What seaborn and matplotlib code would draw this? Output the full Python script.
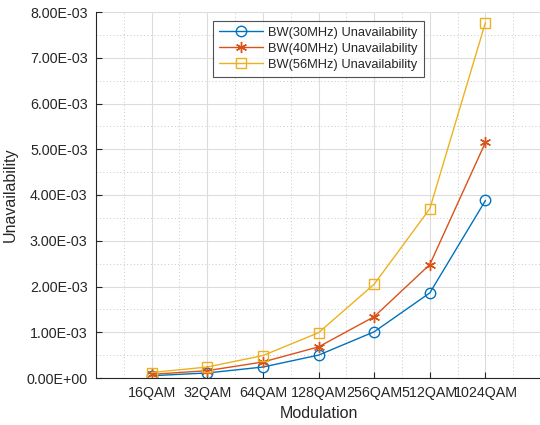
import matplotlib
matplotlib.use("Agg")
import matplotlib.pyplot as plt
import seaborn as sns
import pandas as pd
import numpy as np
from matplotlib.ticker import FuncFormatter, MultipleLocator

modulations = ["16QAM", "32QAM", "64QAM", "128QAM", "256QAM", "512QAM", "1024QAM"]
bw30 = [0.05e-3, 0.11e-3, 0.24e-3, 0.50e-3, 1.01e-3, 1.86e-3, 3.88e-3]
bw40 = [0.08e-3, 0.16e-3, 0.35e-3, 0.68e-3, 1.34e-3, 2.48e-3, 5.15e-3]
bw56 = [0.12e-3, 0.24e-3, 0.49e-3, 0.99e-3, 2.05e-3, 3.70e-3, 7.77e-3]
series_names = ["BW(30MHz) Unavailability", "BW(40MHz) Unavailability", "BW(56MHz) Unavailability"]

sns.set_style("white")
plt.rcParams['font.family'] = ['Liberation Sans', 'DejaVu Sans']

fig = plt.figure(figsize=(5.4, 4.25), dpi=100)
ax = fig.add_axes([96/540, 1-378/425, 1-96/540+0.002, (378-12)/425])

pos = np.arange(1, len(modulations)+1)
rows = []
for name, vals in zip(series_names, [bw30, bw40, bw56]):
    for p, v in zip(pos, vals):
        rows.append({"pos": p, "val": v, "series": name})
df = pd.DataFrame(rows)

colors = ["#0072BD", "#D95319", "#EDB120"]
markers = ["o", (6, 2, 0), "s"]
msizes = [7.5, 8, 6.5]
for name, c, m, ms in zip(series_names, colors, markers, msizes):
    sub = df[df.series == name]
    sns.lineplot(data=sub, x="pos", y="val", ax=ax, color=c, marker=m,
                 markersize=ms, markerfacecolor="none", markeredgecolor=c,
                 markeredgewidth=1.0, linewidth=1.0, label=name)

ax.set_xlim(0, 8)
ax.set_ylim(0, 8e-3)
ax.set_xticks(pos)
ax.set_xticklabels(modulations)
ax.yaxis.set_major_locator(MultipleLocator(1e-3))
ax.yaxis.set_minor_locator(MultipleLocator(0.5e-3))
ax.xaxis.set_minor_locator(MultipleLocator(0.5))
ax.yaxis.set_major_formatter(FuncFormatter(lambda v, p: "{:.2E}".format(v)))

ax.grid(True, which="major", color="#dcdcdc", linewidth=0.8, linestyle="-")
ax.grid(True, which="minor", color="#c8c8c8", linewidth=0.7, linestyle=(0, (1, 2.5)))
ax.set_axisbelow(True)

for s in ["top", "right"]:
    ax.spines[s].set_visible(False)
for s in ["left", "bottom"]:
    ax.spines[s].set_color("#262626")
    ax.spines[s].set_linewidth(0.8)

ax.tick_params(axis="both", which="major", direction="in", length=4, width=0.8,
               colors="#262626", labelsize=10.3, left=True, bottom=True, pad=6)
ax.tick_params(axis="both", which="minor", length=0)

ax.set_xlabel("Modulation", fontsize=11.5, color="#262626", labelpad=4)
ax.set_ylabel("Unavailability", fontsize=11.5, color="#262626", labelpad=6)

leg = ax.legend(loc="upper center", bbox_to_anchor=(0.5, 0.975), fontsize=9.3,
                frameon=True, fancybox=False, handlelength=3.4, handletextpad=0.4,
                borderpad=0.45, labelspacing=0.3, borderaxespad=0)
leg.get_frame().set_edgecolor("#262626")
leg.get_frame().set_linewidth(0.8)

fig.savefig("out.png", dpi=100)
